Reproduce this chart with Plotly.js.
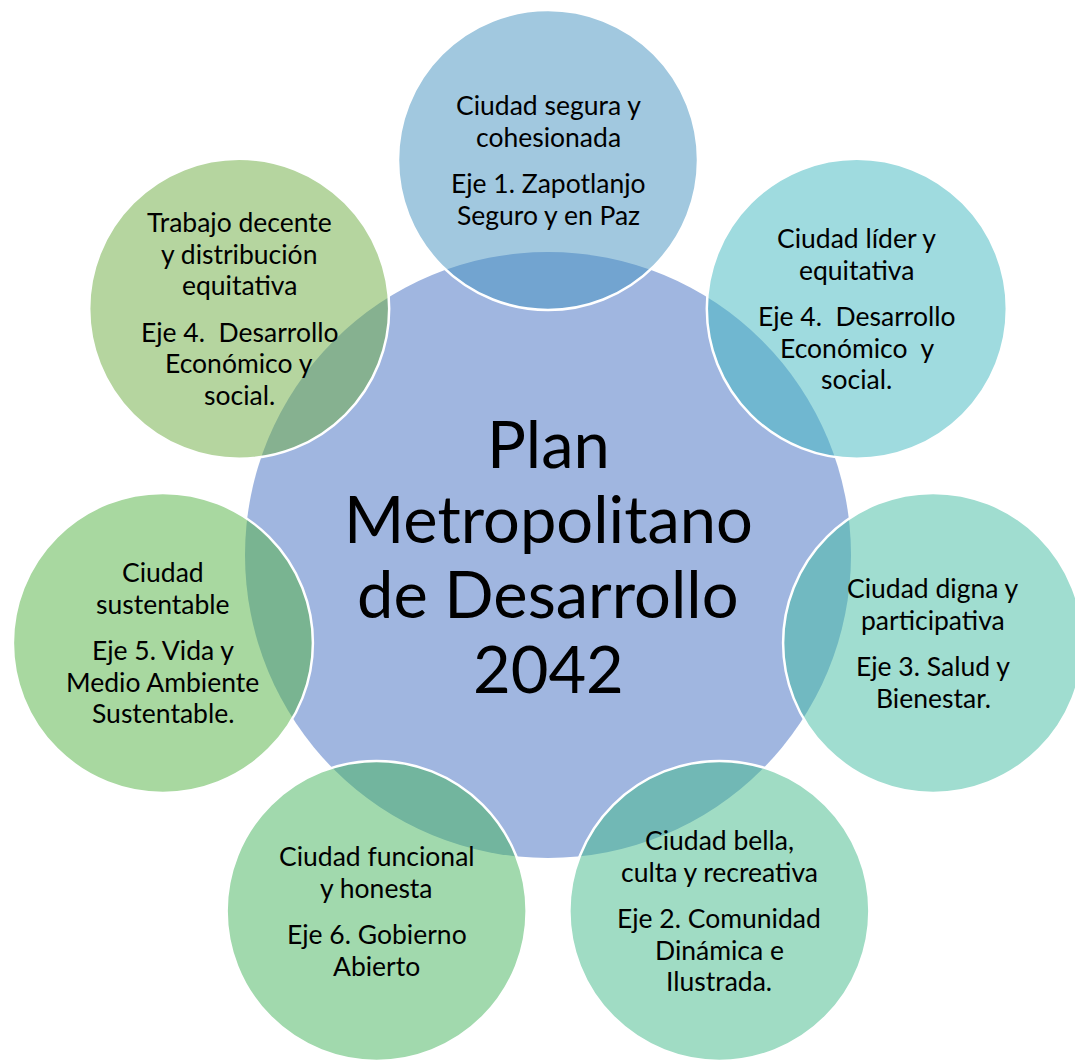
<!DOCTYPE html>
<html>
<head>
<meta charset="utf-8">
<script src="https://cdn.plot.ly/plotly-3.0.1.min.js"></script>
<style>html,body{margin:0;padding:0;background:#fff;}#chart{width:1075px;height:1061px;}</style>
</head>
<body>
<div id="chart"></div>
<script>
// ---- data ----
var centerTitle = ["Plan", "Metropolitano", "de Desarrollo", "2042"];
var ciudades = [
  ["Ciudad segura y", "cohesionada"],
  ["Ciudad líder y", "equitativa"],
  ["Ciudad digna y", "participativa"],
  ["Ciudad bella,", "culta y recreativa"],
  ["Ciudad funcional", "y honesta"],
  ["Ciudad", "sustentable"],
  ["Trabajo decente", "y distribución", "equitativa"]
];
var ejes = [
  ["Eje 1. Zapotlanjo", "Seguro y en Paz"],
  ["Eje 4.  Desarrollo", "Económico  y", "social."],
  ["Eje 3. Salud y", "Bienestar."],
  ["Eje 2. Comunidad", "Dinámica e", "Ilustrada."],
  ["Eje 6. Gobierno", "Abierto"],
  ["Eje 5. Vida y", "Medio Ambiente", "Sustentable."],
  ["Eje 4.  Desarrollo", "Económico y", "social."]
];
var colores = ["#4391BF", "#3FB7BF", "#41BBA1", "#41B989", "#43B35B", "#51B141", "#6BAB3F"];
var centerColor = "#A0B6E0";

// ---- layout geometry ----
var W = 1075, H = 1061;
var cx = 548, cy = 555, Rc = 303, Ro = 150, orbit = 395;
var font = "Lato, 'Open Sans', sans-serif";
var L = 31.5, G = 15, fs = 26.5;
var Lc = 75, fsc = 65;

var shapes = [];
var annotations = [];

function addLine(x, y, txt, size) {
  annotations.push({xref: "x", yref: "y", x: x, y: y, text: txt,
    showarrow: false, xanchor: "center", yanchor: "middle",
    font: {family: font, size: size, color: "#000"}});
}

shapes.push({type: "circle", xref: "x", yref: "y",
  x0: cx - Rc, x1: cx + Rc, y0: cy - Rc, y1: cy + Rc,
  fillcolor: centerColor, line: {width: 0}, layer: "above"});

var n = ciudades.length;
for (var k = 0; k < n; k++) {
  var th = (90 - k * 360 / n) * Math.PI / 180;
  var x = cx + orbit * Math.cos(th);
  var y = cy - orbit * Math.sin(th);
  shapes.push({type: "circle", xref: "x", yref: "y",
    x0: x - Ro, x1: x + Ro, y0: y - Ro, y1: y + Ro,
    fillcolor: colores[k], opacity: 0.5,
    line: {width: 0}, layer: "above"});
  shapes.push({type: "circle", xref: "x", yref: "y",
    x0: x - Ro, x1: x + Ro, y0: y - Ro, y1: y + Ro,
    fillcolor: "rgba(0,0,0,0)",
    line: {color: "#ffffff", width: 2.5}, layer: "above"});
  var t = ciudades[k].length, e = ejes[k].length;
  var total = (t + e - 1) * L + G;
  var y0 = y - total / 2;
  for (var i = 0; i < t; i++) addLine(x, y0 + i * L, ciudades[k][i], fs);
  for (var j = 0; j < e; j++) addLine(x, y0 + t * L + G + j * L, ejes[k][j], fs);
}

var yc0 = cy - (centerTitle.length - 1) * Lc / 2;
for (var m = 0; m < centerTitle.length; m++) addLine(cx, yc0 + m * Lc, centerTitle[m], fsc);

var layout = {
  width: W, height: H,
  margin: {l: 0, r: 0, t: 0, b: 0, pad: 0},
  paper_bgcolor: "#ffffff", plot_bgcolor: "#ffffff",
  xaxis: {range: [0, W], visible: false, fixedrange: true},
  yaxis: {range: [H, 0], visible: false, fixedrange: true},
  shapes: shapes,
  annotations: annotations,
  showlegend: false
};

Plotly.newPlot("chart", [{x: [], y: [], type: "scatter"}], layout, {displayModeBar: false, staticPlot: true});
</script>
</body>
</html>
